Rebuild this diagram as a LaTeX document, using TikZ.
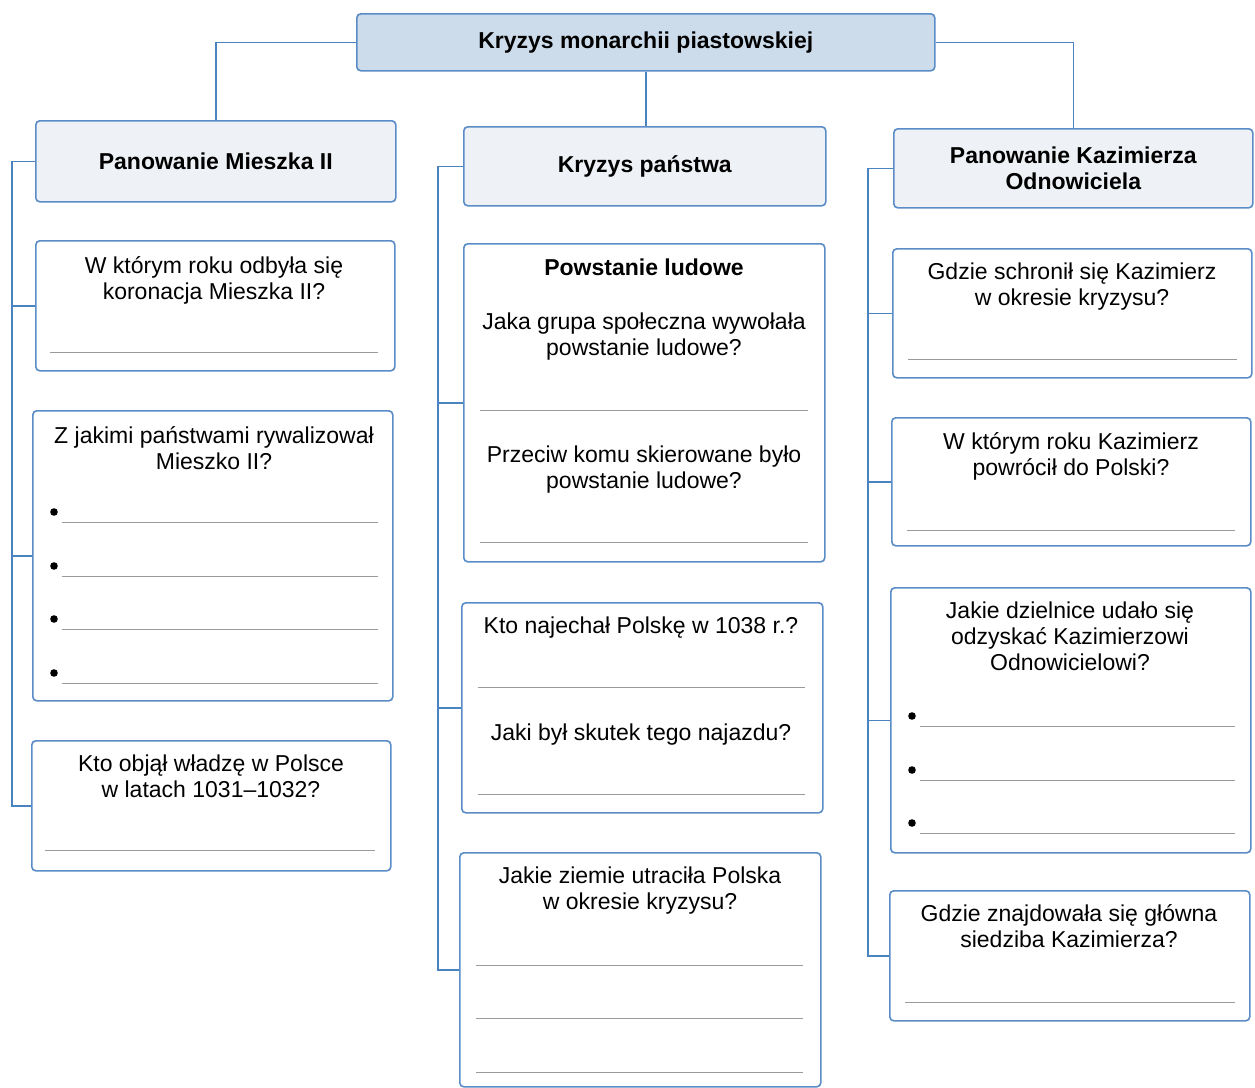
\documentclass[tikz,border=0pt]{standalone}
\usepackage{fontspec}
\setmainfont{Liberation Sans}
\usetikzlibrary{positioning}

\definecolor{frameblue}{HTML}{5A8CC8}
\definecolor{linkblue}{HTML}{4A84C0}
\definecolor{topfill}{HTML}{CCDCEA}
\definecolor{headfill}{HTML}{EEF2F6}
\definecolor{answergray}{HTML}{9A9A9A}

\tikzset{
	qbox/.style={draw=frameblue, line width=0.8pt, rounded corners=2pt,
		fill=white, anchor=north west, inner sep=0pt},
	headbox/.style={qbox, fill=headfill, align=center,
		font=\fontsize{11.5}{13}\selectfont\bfseries},
	topbox/.style={headbox, fill=topfill},
	ask/.style={align=center, anchor=north, inner sep=0pt,
		font=\fontsize{11.5}{13}\selectfont},
	link/.style={draw=linkblue, line width=0.7pt},
	answer/.style={draw=answergray, line width=0.5pt},
	dot/.style={circle, fill=black, inner sep=0pt, minimum size=3.8pt}
}

\begin{document}
\begin{tikzpicture}[x=0.5pt, y=-0.5pt]
\useasboundingbox (0,0) rectangle (1255,1088);

% top
\node[topbox, minimum width=289pt, minimum height=28.5pt] (t) at (356,13)
	{Kryzys monarchii piastowskiej};

% Panowanie Mieszka II
\node[headbox, minimum width=180pt, minimum height=40.5pt] (m0) at (35,120)
	{Panowanie Mieszka II};
\node[qbox, minimum width=179.5pt, minimum height=65pt] (m1) at (35,240) {};
\node[qbox, minimum width=180pt, minimum height=145pt] (m2) at (32,410) {};
\node[qbox, minimum width=179.5pt, minimum height=65pt] (m3) at (31,740) {};
\node[ask] (m1q) at (214,256) {W którym roku odbyła się\\koronacja Mieszka II?};
\node[ask] (m2q) at (214,426) {Z jakimi państwami rywalizował\\Mieszko II?};
\node[ask] (m3q) at (211,754) {Kto objął władzę w Polsce\\w latach 1031--1032?};
\draw[answer] (50,352) -- (378,352);
\foreach \y in {522,576,629,683} {
	\node[dot] at (54,\y-10) {};
	\draw[answer] (62,\y) -- (378,\y);
}
\draw[answer] (45,850) -- (375,850);

% Kryzys panstwa
\node[headbox, minimum width=181pt, minimum height=39.5pt] (k0) at (463,126)
	{Kryzys państwa};
\node[qbox, minimum width=180.5pt, minimum height=159pt] (k1) at (463,243) {};
\node[qbox, minimum width=180.5pt, minimum height=105pt] (k2) at (461,602) {};
\node[qbox, minimum width=180.5pt, minimum height=117pt] (k3) at (459,852) {};
\node[ask, font=\fontsize{11.5}{13}\selectfont\bfseries] (k1t) at (644,258) {Powstanie ludowe};
\node[ask] (k1q) at (644,312) {Jaka grupa społeczna wywołała\\powstanie ludowe?};
\node[ask] (k1r) at (644,445) {Przeciw komu skierowane było\\powstanie ludowe?};
\node[ask] (k2q) at (641,616) {Kto najechał Polskę w 1038 r.?};
\node[ask] (k2r) at (641,723) {Jaki był skutek tego najazdu?};
\node[ask] (k3q) at (640,866) {Jakie ziemie utraciła Polska\\w okresie kryzysu?};
\foreach \y in {410,542} \draw[answer] (480,\y) -- (808,\y);
\foreach \y in {687,794} \draw[answer] (478,\y) -- (805,\y);
\foreach \y in {965,1018,1072} \draw[answer] (476,\y) -- (803,\y);

% Panowanie Kazimierza Odnowiciela
\node[headbox, minimum width=179.5pt, minimum height=39.5pt] (z0) at (893,128)
	{Panowanie Kazimierza\\Odnowiciela};
\node[qbox, minimum width=179.5pt, minimum height=64.5pt] (z1) at (892,248) {};
\node[qbox, minimum width=179.5pt, minimum height=64pt] (z2) at (891,417) {};
\node[qbox, minimum width=180pt, minimum height=132.5pt] (z3) at (890,587) {};
\node[qbox, minimum width=180pt, minimum height=65pt] (z4) at (889,890) {};
\node[ask] (z1q) at (1072,262) {Gdzie schronił się Kazimierz\\w okresie kryzysu?};
\node[ask] (z2q) at (1071,432) {W którym roku Kazimierz\\powrócił do Polski?};
\node[ask] (z3q) at (1070,601) {Jakie dzielnice udało się\\odzyskać Kazimierzowi\\Odnowicielowi?};
\node[ask] (z4q) at (1069,904) {Gdzie znajdowała się główna\\siedziba Kazimierza?};
\draw[answer] (908,359) -- (1237,359);
\draw[answer] (907,530) -- (1235,530);
\foreach \y in {726,780,833} {
	\node[dot] at (912,\y-10) {};
	\draw[answer] (920,\y) -- (1235,\y);
}
\draw[answer] (905,1002) -- (1235,1002);

% connectors
\coordinate (ms) at (12,0);
\coordinate (ks) at (438,0);
\coordinate (zs) at (868,0);
\draw[link] (t.west) -| (m0.north);
\draw[link] (t.east) -| (z0.north);
\draw[link] (t.south) -- (t.south |- k0.north);
\draw[link] (m0.west) -- (m0.west -| ms) -- (m3.west -| ms) -- (m3.west);
\foreach \n in {m1,m2} \draw[link] (\n.west -| ms) -- (\n.west);
\draw[link] (k0.west) -- (k0.west -| ks) -- (k3.west -| ks) -- (k3.west);
\foreach \n in {k1,k2} \draw[link] (\n.west -| ks) -- (\n.west);
\draw[link] (z0.west) -- (z0.west -| zs) -- (z4.west -| zs) -- (z4.west);
\foreach \n in {z1,z2,z3} \draw[link] (\n.west -| zs) -- (\n.west);
\end{tikzpicture}
\end{document}
